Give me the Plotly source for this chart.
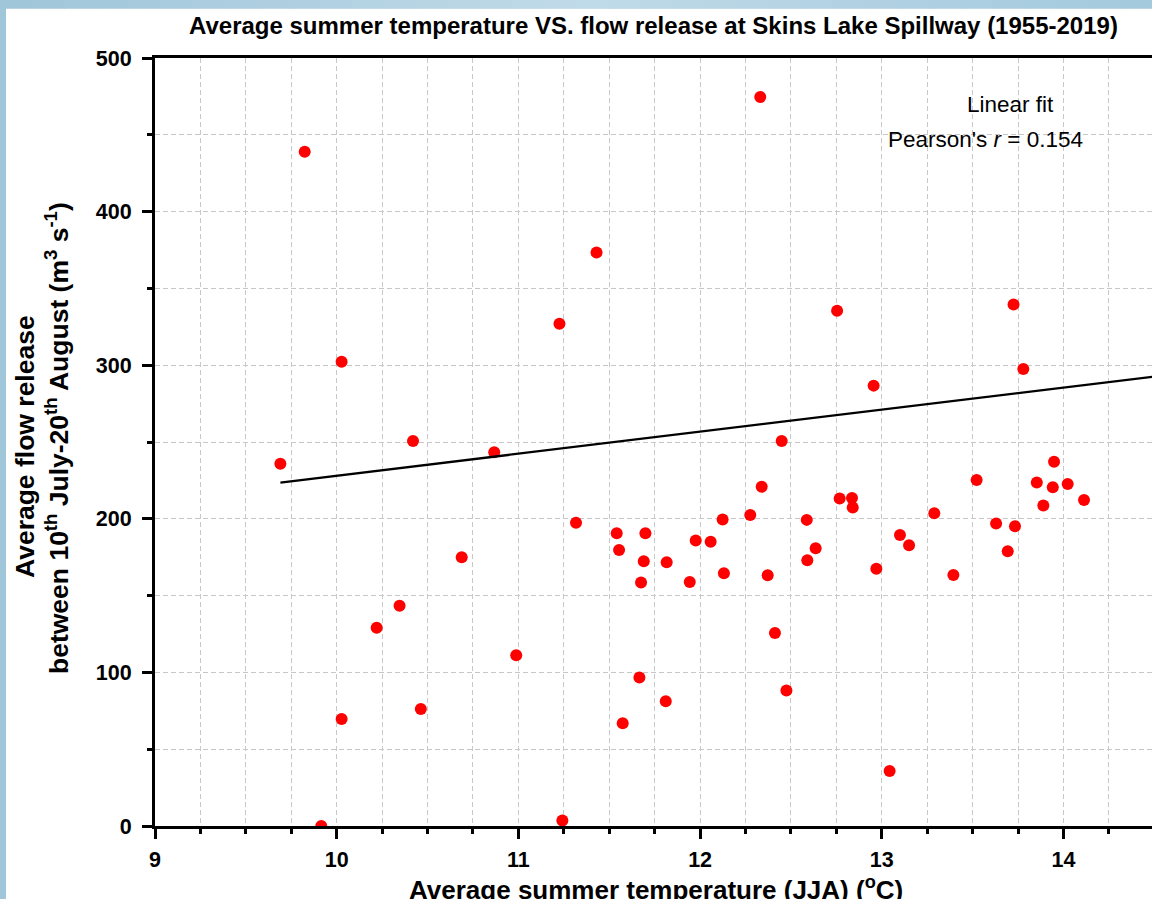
import plotly.graph_objects as go

# ---- data ----
temp_c = [9.690, 9.824, 9.915, 10.027, 10.027, 10.220, 10.346, 10.420, 10.463, 10.688,
          10.867, 10.988, 11.226, 11.242, 11.317, 11.430, 11.541, 11.554, 11.574, 11.666,
          11.675, 11.690, 11.699, 11.811, 11.816, 11.943, 11.976, 12.058, 12.124, 12.131,
          12.276, 12.331, 12.339, 12.372, 12.412, 12.449, 12.475, 12.587, 12.590, 12.636,
          12.754, 12.768, 12.836, 12.840, 12.955, 12.970, 13.043, 13.100, 13.150, 13.289,
          13.394, 13.522, 13.629, 13.693, 13.725, 13.733, 13.779, 13.853, 13.889, 13.941,
          13.948, 14.023, 14.113]
flow_m3s = [235.8, 438.9, 0.0, 302.2, 69.7, 129.0, 143.4, 250.6, 76.2, 175.0,
            243.4, 111.2, 327.0, 3.6, 197.5, 373.3, 190.6, 179.7, 66.9, 96.7,
            158.6, 172.3, 190.6, 81.2, 171.7, 158.8, 185.8, 185.1, 199.5, 164.5,
            202.5, 474.6, 220.8, 163.2, 125.6, 250.6, 88.2, 199.3, 173.0, 180.8,
            335.4, 213.2, 213.6, 207.3, 286.7, 167.5, 35.8, 189.5, 182.8, 203.6,
            163.4, 225.2, 196.9, 178.9, 339.5, 195.2, 297.6, 223.6, 208.6, 220.6,
            237.1, 222.6, 212.3]
fit_x = [9.69, 14.6]
fit_y = [223.6, 294.0]

FONT = "Arial, Liberation Sans, sans-serif"

# figure geometry (pixels)
W, H = 1152, 899
L, R, T, B = 155, 0, 58, 73
PW, PH = W - L - R, H - T - B


def px2x(px):
    return (px - L) / PW


def py2y(py):
    return (H - B - py) / PH


fig = go.Figure()
fig.add_trace(go.Scatter(
    x=temp_c, y=flow_m3s, mode="markers",
    marker=dict(color="#ff0000", size=12, line=dict(width=0)),
    showlegend=False))
fig.add_trace(go.Scatter(
    x=fit_x, y=fit_y, mode="lines",
    line=dict(color="black", width=2.3),
    showlegend=False))

grid = dict(showgrid=True, gridcolor="#c8c8c8", gridwidth=1, griddash="5px,3px")

fig.update_xaxes(
    range=[9, 9 + PW / 181.7], dtick=1, tick0=9,
    showline=True, linecolor="black", linewidth=3, mirror=True,
    ticks="outside", ticklen=10, tickwidth=3, tickcolor="black",
    tickfont=dict(family=FONT, size=21.5, color="black", weight="bold"),
    ticklabelstandoff=2,
    zeroline=False,
    minor=dict(dtick=0.25, ticks="outside", ticklen=5, tickwidth=2.5,
               tickcolor="black", **grid),
    **grid)
fig.update_yaxes(
    range=[0, 500], dtick=100, tick0=0,
    showline=True, linecolor="black", linewidth=3,
    ticks="outside", ticklen=10, tickwidth=3, tickcolor="black",
    tickfont=dict(family=FONT, size=21.5, color="black", weight="bold"),
    ticklabelstandoff=6,
    zeroline=False,
    minor=dict(dtick=50, ticks="outside", ticklen=5, tickwidth=2.5,
               tickcolor="black", **grid),
    **grid)

# blue frame at top and left edge: blue paper, white sheet over it
left_c = (160, 198, 218)
mid_c = (192, 218, 232)
right_c = (164, 202, 222)
shapes = [dict(type="rect", xref="paper", yref="paper",
               x0=px2x(6), x1=px2x(W + 2), y0=py2y(H + 2), y1=py2y(8.5),
               fillcolor="white", line=dict(width=0), layer="below")]
n = 36
for i in range(n):
    f = i / (n - 1)
    if f < 0.5:
        g = f / 0.5
        c = [round(left_c[k] + (mid_c[k] - left_c[k]) * g) for k in range(3)]
    else:
        g = (f - 0.5) / 0.5
        c = [round(mid_c[k] + (right_c[k] - mid_c[k]) * g) for k in range(3)]
    x0 = W * i / n
    x1 = W * (i + 1) / n + 1
    shapes.append(dict(type="rect", xref="paper", yref="paper",
                       x0=px2x(x0), x1=px2x(x1), y0=py2y(8.5), y1=py2y(-1),
                       fillcolor="rgb(%d,%d,%d)" % tuple(c), line=dict(width=0),
                       layer="above"))

annotations = [
    dict(text="<b>Average summer temperature VS. flow release at Skins Lake Spillway (1955-2019)</b>",
         x=px2x(653), y=py2y(26), xref="paper", yref="paper", showarrow=False,
         xanchor="center", yanchor="middle",
         font=dict(family=FONT, size=24, color="black")),
    dict(text="<b>Average summer temperature (JJA) (<sup>o</sup>C)</b>",
         x=px2x(656), y=py2y(888), xref="paper", yref="paper", showarrow=False,
         xanchor="center", yanchor="middle",
         font=dict(family=FONT, size=26, color="black")),
    dict(text="<b>Average flow release</b>",
         x=px2x(25), y=py2y(447), xref="paper", yref="paper", showarrow=False,
         xanchor="center", yanchor="middle", textangle=-90,
         font=dict(family=FONT, size=26.5, color="black")),
    dict(text="<b>between 10<sup>th</sup> July-20<sup>th</sup> August (m<sup>3</sup> s<sup>-1</sup>)</b>",
         x=px2x(57), y=py2y(438), xref="paper", yref="paper", showarrow=False,
         xanchor="center", yanchor="middle", textangle=-90,
         font=dict(family=FONT, size=26.5, color="black")),
    dict(text="Linear fit",
         x=px2x(1010), y=py2y(105), xref="paper", yref="paper", showarrow=False,
         xanchor="center", yanchor="middle",
         font=dict(family=FONT, size=22.5, color="black")),
    dict(text="Pearson's <i>r</i> = 0.154",
         x=px2x(985), y=py2y(139), xref="paper", yref="paper", showarrow=False,
         xanchor="center", yanchor="middle",
         font=dict(family=FONT, size=22.5, color="black")),
]

fig.update_layout(
    width=W, height=H,
    margin=dict(l=L, r=R, t=T, b=B, pad=0),
    paper_bgcolor="rgb(%d,%d,%d)" % left_c, plot_bgcolor="white",
    shapes=shapes, annotations=annotations,
    showlegend=False,
)

fig.write_html(
    "out.html",
    config={"displayModeBar": False},
    post_script=("document.documentElement.style.margin='0';"
                 "document.body.style.margin='0';document.body.style.padding='0';"
                 "document.body.style.overflow='hidden';window.scrollTo(0,0);"),
)
